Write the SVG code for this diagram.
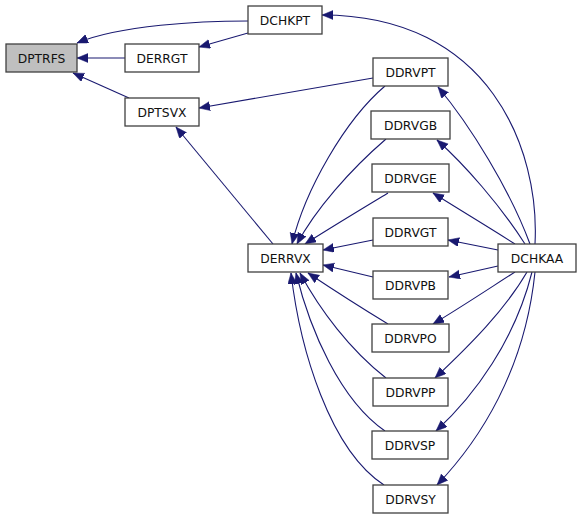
<svg xmlns="http://www.w3.org/2000/svg" width="581" height="519" viewBox="0 0 581 519">
<style>
.n rect{fill:#ffffff;stroke:#404040;stroke-width:1.3}
.n text{font-family:"DejaVu Sans",sans-serif;font-size:12.3px;fill:#111111;text-anchor:middle}
#e path{fill:none;stroke:#191970;stroke-width:1.1}
</style>
<defs>
<marker id="a" markerWidth="12" markerHeight="10" refX="11" refY="4.5" orient="auto" markerUnits="userSpaceOnUse">
<path d="M0,0 L11,4.5 L0,9 z" fill="#191970" stroke="#191970" stroke-width="0.5"/>
</marker>
</defs>
<rect width="581" height="519" fill="#ffffff"/>
<g id="e">
<path d="M248,21 C200,21 120,25 77,43" marker-end="url(#a)"/>
<path d="M125,58 L77,58" marker-end="url(#a)"/>
<path d="M129,98 L73,73" marker-end="url(#a)"/>
<path d="M248,33 L199,47" marker-end="url(#a)"/>
<path d="M373,78 L199,108" marker-end="url(#a)"/>
<path d="M273,244 L176,127" marker-end="url(#a)"/>
<path d="M535,244 C540,150 490,15 322,15" marker-end="url(#a)"/>
<path d="M530,244 C510,190 470,125 438,87" marker-end="url(#a)"/>
<path d="M525,244 C500,205 465,165 437,140" marker-end="url(#a)"/>
<path d="M515,244 C490,228 460,210 433,193" marker-end="url(#a)"/>
<path d="M498,250 L448,240" marker-end="url(#a)"/>
<path d="M498,266 L449,277" marker-end="url(#a)"/>
<path d="M515,272 C490,288 460,308 433,324" marker-end="url(#a)"/>
<path d="M527,272 C505,310 470,345 435,378" marker-end="url(#a)"/>
<path d="M532,272 C515,340 475,395 436,431" marker-end="url(#a)"/>
<path d="M535,272 C525,370 480,440 437,485" marker-end="url(#a)"/>
<path d="M385,86 C345,120 305,190 292,244" marker-end="url(#a)"/>
<path d="M386,139 C350,170 315,210 297,244" marker-end="url(#a)"/>
<path d="M388,193 C360,210 330,228 305,244" marker-end="url(#a)"/>
<path d="M373,240 L323,250" marker-end="url(#a)"/>
<path d="M373,277 L323,265" marker-end="url(#a)"/>
<path d="M388,324 C360,307 332,289 308,273" marker-end="url(#a)"/>
<path d="M386,378 C350,350 320,310 300,273" marker-end="url(#a)"/>
<path d="M385,431 C340,400 310,330 296,273" marker-end="url(#a)"/>
<path d="M384,485 C330,450 300,350 291,273" marker-end="url(#a)"/>
</g>
<g id="DPTRFS" class="n"><rect x="6" y="44" width="71" height="28" style="fill:#bfbfbf"/><text x="41.5" y="62.5">DPTRFS</text></g>
<g id="DERRGT" class="n"><rect x="125" y="44" width="74" height="28"/><text x="162" y="62.5">DERRGT</text></g>
<g id="DCHKPT" class="n"><rect x="248" y="6" width="74" height="28"/><text x="285" y="24.5">DCHKPT</text></g>
<g id="DPTSVX" class="n"><rect x="125" y="98" width="74" height="28"/><text x="162" y="116.5">DPTSVX</text></g>
<g id="DDRVPT" class="n"><rect x="373" y="58" width="75" height="28"/><text x="410.5" y="76.5">DDRVPT</text></g>
<g id="DDRVGB" class="n"><rect x="371" y="111" width="79" height="28"/><text x="410.5" y="129.5">DDRVGB</text></g>
<g id="DDRVGE" class="n"><rect x="372" y="164" width="77" height="28"/><text x="410.5" y="182.5">DDRVGE</text></g>
<g id="DDRVGT" class="n"><rect x="373" y="218" width="75" height="28"/><text x="410.5" y="236.5">DDRVGT</text></g>
<g id="DERRVX" class="n"><rect x="248" y="244" width="75" height="28"/><text x="285.5" y="262.5">DERRVX</text></g>
<g id="DCHKAA" class="n"><rect x="498" y="244" width="78" height="28"/><text x="537" y="262.5">DCHKAA</text></g>
<g id="DDRVPB" class="n"><rect x="373" y="271" width="75" height="28"/><text x="410.5" y="289.5">DDRVPB</text></g>
<g id="DDRVPO" class="n"><rect x="372" y="324" width="77" height="28"/><text x="410.5" y="342.5">DDRVPO</text></g>
<g id="DDRVPP" class="n"><rect x="373" y="378" width="75" height="28"/><text x="410.5" y="396.5">DDRVPP</text></g>
<g id="DDRVSP" class="n"><rect x="372" y="431" width="76" height="28"/><text x="410" y="449.5">DDRVSP</text></g>
<g id="DDRVSY" class="n"><rect x="373" y="485" width="75" height="28"/><text x="410.5" y="503.5">DDRVSY</text></g>
</svg>
